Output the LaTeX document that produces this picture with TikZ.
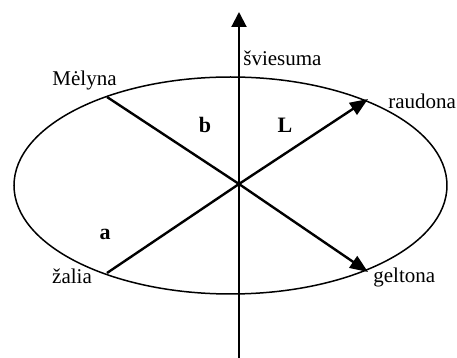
\documentclass[tikz,border=0pt]{standalone}
\usepackage{fontspec}
\setmainfont{Liberation Serif}
\usetikzlibrary{arrows.meta,positioning}
\tikzset{
  lbl/.style={font=\fontsize{10.5}{12}\selectfont, inner sep=0pt},
  axlbl/.style={font=\fontsize{11}{12}\selectfont\bfseries, inner sep=0pt},
  axisline/.style={line width=1pt, -{Triangle[length=7.5pt,width=7.5pt]}},
  colline/.style={line width=1.2pt},
  colarrow/.style={line width=1.2pt, -{Triangle[length=9pt,width=7pt]}},
}
\begin{document}
\begin{tikzpicture}[x=0.5pt,y=-0.5pt]
  \useasboundingbox (0,0) rectangle (457,358);
  % colour plane
  \draw[line width=0.75pt] (230.5,185.5) ellipse [x radius=216.5, y radius=108.5];

  \coordinate (o) at (239,184);
  \coordinate (bot) at (239,358);
  \coordinate (top) at (239,12);
  \coordinate (blue) at (107,97);
  \coordinate (red) at (368,99);
  \coordinate (green) at (107,273);
  \coordinate (yellow) at (368,272);

  % lightness axis
  \draw[axisline] (bot) -- (top);
  \node[lbl, anchor=west] (light) at (243,58) {šviesuma};

  % a and b axes
  \draw[colarrow] (blue) -- (o) -- (yellow);
  \draw[colarrow] (green) -- (o) -- (red);

  \node[lbl] (lblue) at (84.5,80) {Mėlyna};
  \node[lbl, anchor=west] (lred) at (388,101) {raudona};
  \node[lbl] (lgreen) at (72,276) {žalia};
  \node[lbl, anchor=west] (lyellow) at (373,277) {geltona};

  \node[axlbl] (b) at (205,125) {b};
  \node[axlbl] (L) at (285,125) {L};
  \node[axlbl] (a) at (105,234) {a};
\end{tikzpicture}
\end{document}
